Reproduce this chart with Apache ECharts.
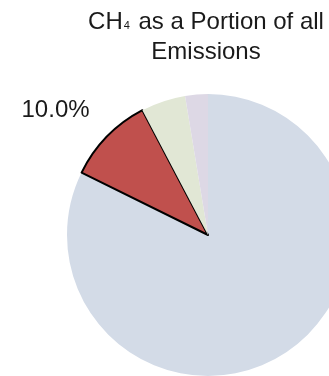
<!DOCTYPE html>
<html>
<head>
<meta charset="utf-8">
<script src="https://cdn.jsdelivr.net/npm/echarts@6/dist/echarts.min.js"></script>
<style>
  html, body { margin: 0; padding: 0; background: #fff; }
  #chart { width: 329px; height: 376px; }
</style>
</head>
<body>
<div id="chart"></div>
<script>
// Share of total emissions by gas (percent)
const categories = ['Other gases', 'CH4', 'Gas C', 'Gas D'];
const shares = [82.3, 10.0, 5.1, 2.6];
const sliceColors = ['#D3DBE7', '#C0504D', '#E1E7D5', '#DDD8E5'];
const labelledCategory = 'CH4';

const chart = echarts.init(document.getElementById('chart'), null, { renderer: 'canvas' });

const data = categories.map((name, i) => {
  const item = { name: name, value: shares[i], itemStyle: { color: sliceColors[i] } };
  if (name === labelledCategory) {
    item.itemStyle.borderColor = '#000';
    item.itemStyle.borderWidth = 2;
    item.label = { show: true };
  }
  return item;
});

chart.setOption({
  animation: false,
  title: {
    text: '{a|CH}{s|4}{a| as a Portion of all}\n{a|Emissions}',
    left: 201,
    textAlign: 'center',
    top: 2,
    textStyle: {
      fontWeight: 'normal',
      rich: {
        a: { fontFamily: 'Liberation Sans', fontSize: 24, fontWeight: 'normal', color: '#1a1a1a', lineHeight: 30 },
        s: { fontFamily: 'Liberation Sans', fontSize: 11, fontWeight: 'normal', color: '#1a1a1a', lineHeight: 30, padding: [8, 2, 0, 1] }
      }
    }
  },
  series: [{
    type: 'pie',
    center: [208, 235],
    radius: 141,
    startAngle: 90,
    clockwise: true,
    data: data,
    label: {
      show: false,
      position: 'outside',
      alignTo: 'none',
      overflow: 'none',
      formatter: p => p.value.toFixed(1) + '%',
      fontFamily: 'Liberation Sans',
      fontSize: 24,
      color: '#1a1a1a'
    },
    labelLine: { show: false, length: 30, length2: 0 },
    labelLayout: { dx: 9, dy: -5 },
    emphasis: { disabled: true }
  }]
});
</script>
</body>
</html>
